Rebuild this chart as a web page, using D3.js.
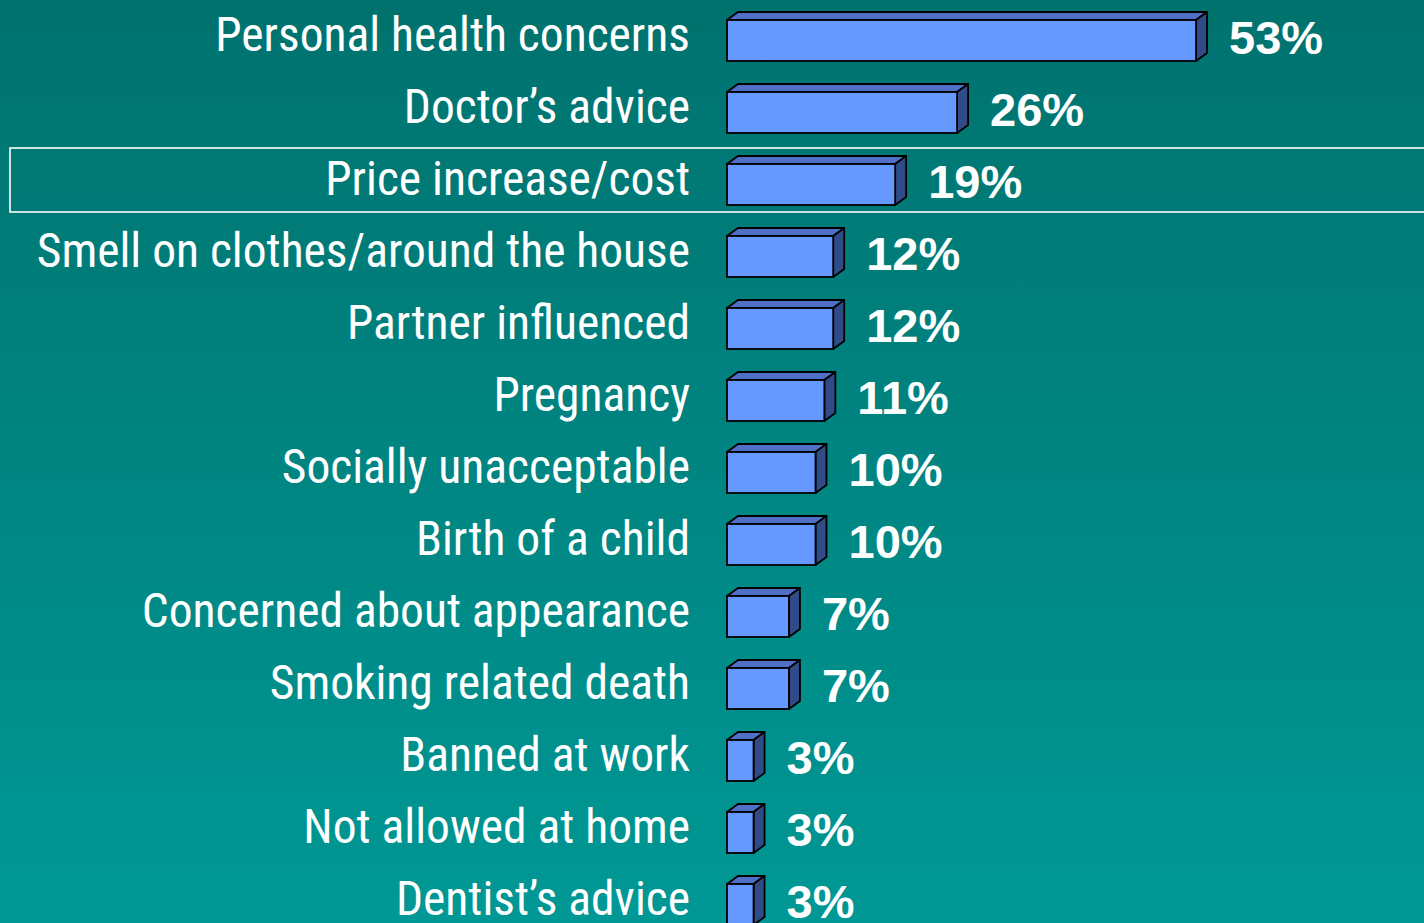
<!DOCTYPE html>
<html>
<head>
<meta charset="utf-8">
<script src="https://cdn.jsdelivr.net/npm/d3@7"></script>
<style>
  html, body { margin: 0; padding: 0; overflow: hidden; }
  svg { display: block; }
</style>
</head>
<body>
<svg id="chart"></svg>
<script>
const categories = [
    "Personal health concerns",
    "Doctor\u2019s advice",
    "Price increase/cost",
    "Smell on clothes/around the house",
    "Partner influenced",
    "Pregnancy",
    "Socially unacceptable",
    "Birth of a child",
    "Concerned about appearance",
    "Smoking related death",
    "Banned at work",
    "Not allowed at home",
    "Dentist\u2019s advice"
];
const values = [53, 26, 19, 12, 12, 11, 10, 10, 7, 7, 3, 3, 3];
const highlighted = ["Price increase/cost"];

const width = 1424, height = 923;
const barLeft = 727, depthX = 11, depthY = 8, barH = 41;

const svg = d3.select("#chart")
    .attr("width", width)
    .attr("height", height);

// background gradient
const defs = svg.append("defs");
const grad = defs.append("linearGradient")
    .attr("id", "bg")
    .attr("x1", 0).attr("y1", 0).attr("x2", 0).attr("y2", 1);
grad.append("stop").attr("offset", "0%").attr("stop-color", "#00726e");
grad.append("stop").attr("offset", "100%").attr("stop-color", "#009895");

svg.append("rect")
    .attr("width", width)
    .attr("height", height)
    .attr("fill", "url(#bg)");

const xScale = d3.scaleLinear()
    .domain([0, 100])
    .range([0, 885]);

const yScale = d3.scaleBand()
    .domain(categories)
    .range([4, 4 + categories.length * 72])
    .padding(0);

const data = categories.map((c, i) => ({ cat: c, value: values[i] }));

// highlight frame
svg.selectAll("rect.highlight")
    .data(highlighted)
    .join("rect")
    .attr("class", "highlight")
    .attr("x", 10)
    .attr("y", d => yScale(d))
    .attr("width", width + 20)
    .attr("height", 64)
    .attr("fill", "none")
    .attr("stroke", "#ffffff")
    .attr("stroke-width", 1.6);

// category labels
svg.append("g")
    .selectAll("text")
    .data(data)
    .join("text")
    .attr("x", 690)
    .attr("y", d => yScale(d.cat) + 47)
    .attr("text-anchor", "end")
    .attr("fill", "#ffffff")
    .style("font-family", "'Liberation Sans Narrow', 'Arial Narrow', 'Roboto Condensed', sans-serif")
    .style("font-size", "47.5px")
    .text(d => d.cat);

// 3D bars
const bars = svg.append("g")
    .selectAll("g.bar")
    .data(data)
    .join("g")
    .attr("class", "bar")
    .attr("transform", d => `translate(${barLeft}, ${yScale(d.cat) + 16})`);

bars.append("path")
    .attr("d", d => {
        const w = xScale(d.value);
        return `M0,0 L${depthX},${-depthY} L${w + depthX},${-depthY} L${w},0 Z`;
    })
    .attr("fill", "#4f70c6")
    .attr("stroke", "#000")
    .attr("stroke-width", 1.8)
    .attr("stroke-linejoin", "round");

bars.append("path")
    .attr("d", d => {
        const w = xScale(d.value);
        return `M${w},0 L${w + depthX},${-depthY} L${w + depthX},${barH - depthY} L${w},${barH} Z`;
    })
    .attr("fill", "#304c88")
    .attr("stroke", "#000")
    .attr("stroke-width", 1.8)
    .attr("stroke-linejoin", "round");

bars.append("rect")
    .attr("x", 0)
    .attr("y", 0)
    .attr("width", d => xScale(d.value))
    .attr("height", barH)
    .attr("fill", "#6699ff")
    .attr("stroke", "#000")
    .attr("stroke-width", 1.8);

// value labels
svg.append("g")
    .selectAll("text")
    .data(data)
    .join("text")
    .attr("x", d => barLeft + xScale(d.value) + depthX + 22)
    .attr("y", d => yScale(d.cat) + 50)
    .attr("fill", "#ffffff")
    .style("font-family", "'Liberation Sans', Arial, sans-serif")
    .style("font-weight", "bold")
    .style("font-size", "47px")
    .text(d => d.value + "%");
</script>
</body>
</html>
